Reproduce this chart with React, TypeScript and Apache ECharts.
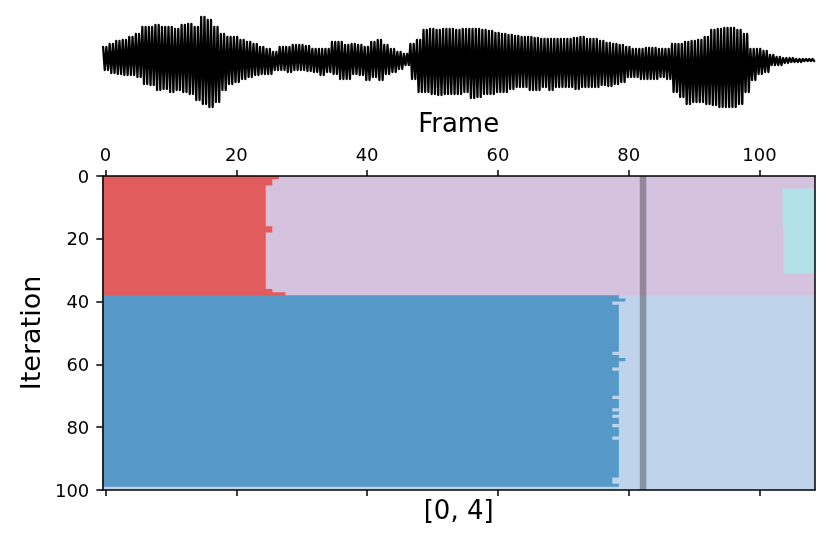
import React, { useEffect, useRef } from "react";
import * as echarts from "echarts";

// ---- Data ----
const frameTicks = [0, 20, 40, 60, 80, 100];
const iterationTicks = [0, 20, 40, 60, 80, 100];
const nFrames = 109;
const nIterations = 100;

// waveform envelope per frame (peak above / below centre, arbitrary units)
const waveTop = [
  13, 16, 19, 20, 23, 26, 33, 33, 35, 33, 33, 31, 35, 36, 33, 43, 40, 33, 26, 23, 23, 20, 18, 16, 13, 11, 8,
  13, 13, 15, 15, 14, 11, 11, 11, 18, 18, 15, 16, 15, 13, 18, 20, 15, 11, 8, 6, 16, 20, 30, 31, 30, 31, 31,
  30, 31, 31, 31, 30, 29, 27, 26, 25, 24, 23, 23, 22, 21, 21, 21, 21, 21, 22, 23, 21, 21, 19, 17, 16, 15, 13,
  11, 11, 12, 12, 11, 11, 16, 16, 18, 19, 20, 23, 30, 31, 32, 32, 30, 26, 11, 11, 9, 5, 3, 2, 2, 1, 1, 1,
];
const waveBottom = [
  -10, -13, -14, -15, -15, -17, -24, -25, -30, -29, -32, -30, -32, -34, -40, -44, -47, -42, -30, -24, -22, -19, -17, -15, -14, -14, -10,
  -10, -12, -10, -10, -11, -12, -15, -12, -14, -19, -19, -14, -15, -20, -17, -20, -14, -12, -9, -5, -19, -32, -32, -34, -35, -34, -34,
  -34, -32, -38, -37, -34, -34, -32, -32, -29, -27, -27, -30, -30, -27, -30, -27, -27, -27, -29, -27, -27, -27, -25, -26, -24, -22, -17,
  -17, -19, -19, -19, -17, -19, -32, -37, -44, -42, -42, -44, -45, -47, -47, -47, -44, -32, -20, -14, -12, -5, -5, -3, -2, -2, -1, -1,
];

// cluster image: rows 0..37 -> red up to redEnd, lilac after (cyan block)
const redEnd = [
  26, 25, 25, 24, 24, 24, 24, 24, 24, 24, 24, 24, 24, 24, 24, 24, 25, 25, 24, 24, 24, 24, 24, 24, 24, 24, 24, 24, 24,
  24, 24, 24, 24, 24, 24, 24, 25, 27,
];
// rows 38..99 -> blue up to blueEnd, light blue after
const blueEnd = [
  78, 79, 77, 78, 78, 78, 78, 78, 78, 78, 78, 78, 78, 78, 78, 78, 78, 78, 77, 78, 79, 78, 78, 77, 78, 78, 78, 78, 78,
  78, 78, 78, 77, 78, 78, 78, 77, 78, 77, 78, 78, 77, 78, 78, 78, 77, 78, 78, 78, 78, 78, 78, 78, 78, 78, 78, 78, 78,
  77, 77, 78, -1,
];
const cyanRows = [4, 30];
const cyanCols = [104, 108];
const highlightFrame = 82.2;

const clusterColors = ["#e15d5d", "#d4c2de", "#b3e1e8", "#5699c6", "#bfd3eb"];
// 0 red, 1 lilac, 2 cyan, 3 blue, 4 light blue

function buildLabels(): number[][] {
  const grid: number[][] = [];
  for (let r = 0; r < nIterations; r++) {
    const row: number[] = [];
    for (let c = 0; c < nFrames; c++) {
      let v: number;
      if (r < redEnd.length) {
        v = c <= redEnd[r] ? 0 : 1;
        if (r >= cyanRows[0] && r <= cyanRows[1] && c >= cyanCols[0] && c <= cyanCols[1]) v = 2;
      } else {
        v = c <= blueEnd[r - redEnd.length] ? 3 : 4;
      }
      row.push(v);
    }
    grid.push(row);
  }
  return grid;
}

function buildRects(): number[][] {
  const labels = buildLabels();
  const rects: number[][] = [];
  let open = new Map<string, number[]>();
  for (let r = 0; r < labels.length; r++) {
    const row = labels[r];
    const next = new Map<string, number[]>();
    let c0 = 0;
    for (let c = 1; c <= row.length; c++) {
      if (c === row.length || row[c] !== row[c0]) {
        const key = `${c0}-${c - 1}-${row[c0]}`;
        const prev = open.get(key);
        if (prev) {
          prev[3] = r + 1;
          next.set(key, prev);
        } else {
          const rect = [c0 - 0.5, c - 0.5, r, r + 1, row[c0]];
          rects.push(rect);
          next.set(key, rect);
        }
        c0 = c;
      }
    }
    open = next;
  }
  return rects;
}

// two strokes per frame, each reaching that frame's read peaks
function buildWave(): number[][] {
  const pts: number[][] = [];
  for (let i = 0; i < waveTop.length; i++) {
    pts.push([i - 0.375, waveTop[i]]);
    pts.push([i - 0.125, waveBottom[i]]);
    pts.push([i + 0.125, waveTop[i]]);
    pts.push([i + 0.375, waveBottom[i]]);
  }
  return pts;
}

export default function App() {
  const ref = useRef<HTMLDivElement>(null);
  useEffect(() => {
    if (!ref.current) return;
    const chart = echarts.init(ref.current, null, { renderer: "svg" });
    const font = "DejaVu Sans";
    const spine = { show: true, onZero: false, lineStyle: { color: "#000", width: 1.5 } };
    const xMax = nFrames - 0.5;
    const option: any = {
      animation: false,
      textStyle: { fontFamily: font },
      grid: [
        { left: 102.3, top: 10, width: 712.7, height: 100 },
        { left: 102.3, top: 176, width: 712.7, height: 314 },
      ],
      xAxis: [
        { gridIndex: 0, type: "value", min: -0.5, max: xMax, show: false },
        {
          gridIndex: 1,
          type: "value",
          position: "top",
          min: -0.5,
          max: xMax,
          z: 5,
          axisLine: spine,
          axisTick: { show: true, length: 6, customValues: frameTicks, lineStyle: { color: "#000", width: 1.5 } },
          axisLabel: { show: true, customValues: frameTicks, fontSize: 18, color: "#000", margin: 13, fontFamily: font },
          splitLine: { show: false },
          name: "Frame",
          nameLocation: "middle",
          nameGap: 53,
          nameTextStyle: { fontSize: 26, color: "#000", verticalAlign: "middle", fontFamily: font },
        },
        {
          gridIndex: 1,
          type: "value",
          position: "bottom",
          min: -0.5,
          max: xMax,
          z: 5,
          axisLine: spine,
          axisTick: { show: true, length: 6, customValues: frameTicks, lineStyle: { color: "#000", width: 1.5 } },
          axisLabel: { show: false },
          splitLine: { show: false },
          name: "[0, 4]",
          nameLocation: "middle",
          nameGap: 20,
          nameTextStyle: { fontSize: 26, color: "#000", verticalAlign: "middle", fontFamily: font },
        },
      ],
      yAxis: [
        { gridIndex: 0, type: "value", min: -50, max: 50, show: false },
        {
          gridIndex: 1,
          type: "value",
          inverse: true,
          min: 0,
          max: 100,
          interval: 20,
          position: "left",
          z: 5,
          axisLine: spine,
          axisTick: { show: true, length: 6, customValues: iterationTicks, lineStyle: { color: "#000", width: 1.5 } },
          axisLabel: { show: true, customValues: iterationTicks, fontSize: 18, color: "#000", margin: 13, fontFamily: font },
          splitLine: { show: false },
          name: "Iteration",
          nameLocation: "middle",
          nameGap: 72,
          nameRotate: 90,
          nameTextStyle: { fontSize: 27, color: "#000", verticalAlign: "middle", fontFamily: font },
        },
        {
          gridIndex: 1,
          type: "value",
          inverse: true,
          min: 0,
          max: 100,
          position: "right",
          z: 5,
          axisLine: spine,
          axisTick: { show: false },
          axisLabel: { show: false },
          splitLine: { show: false },
        },
      ],
      series: [
        {
          type: "line",
          xAxisIndex: 0,
          yAxisIndex: 0,
          data: buildWave(),
          symbol: "none",
          showSymbol: false,
          lineStyle: { color: "#000", width: 2.3, join: "round", cap: "round" },
          z: 2,
        },
        {
          type: "custom",
          xAxisIndex: 1,
          yAxisIndex: 1,
          data: buildRects(),
          z: 1,
          renderItem: (params: any, api: any) => {
            const x0 = api.value(0), x1 = api.value(1), y0 = api.value(2), y1 = api.value(3);
            const p0 = api.coord([x0, y0]);
            const p1 = api.coord([x1, y1]);
            const color = clusterColors[api.value(4)];
            // overlap into the next cell by 1px so that no seams show (later cells cover it)
            const extraW = x1 >= xMax ? 0 : 1;
            const extraH = y1 >= nIterations ? 0 : 1;
            return {
              type: "rect",
              shape: {
                x: p0[0],
                y: p0[1],
                width: p1[0] - p0[0] + extraW,
                height: p1[1] - p0[1] + extraH,
              },
              style: { fill: color },
            };
          },
        },
        {
          type: "custom",
          xAxisIndex: 1,
          yAxisIndex: 1,
          data: [[highlightFrame]],
          z: 6,
          renderItem: (params: any, api: any) => {
            const x = api.value(0);
            const p0 = api.coord([x - 0.5, 0]);
            const p1 = api.coord([x + 0.5, nIterations]);
            return {
              type: "rect",
              shape: { x: p0[0], y: p0[1], width: p1[0] - p0[0], height: p1[1] - p0[1] },
              style: { fill: "rgba(0,0,0,0.3)" },
            };
          },
        },
      ],
    };
    chart.setOption(option);
    return () => chart.dispose();
  }, []);
  return <div ref={ref} style={{ position: "fixed", left: 0, top: 0, width: 830, height: 539 }} />;
}
